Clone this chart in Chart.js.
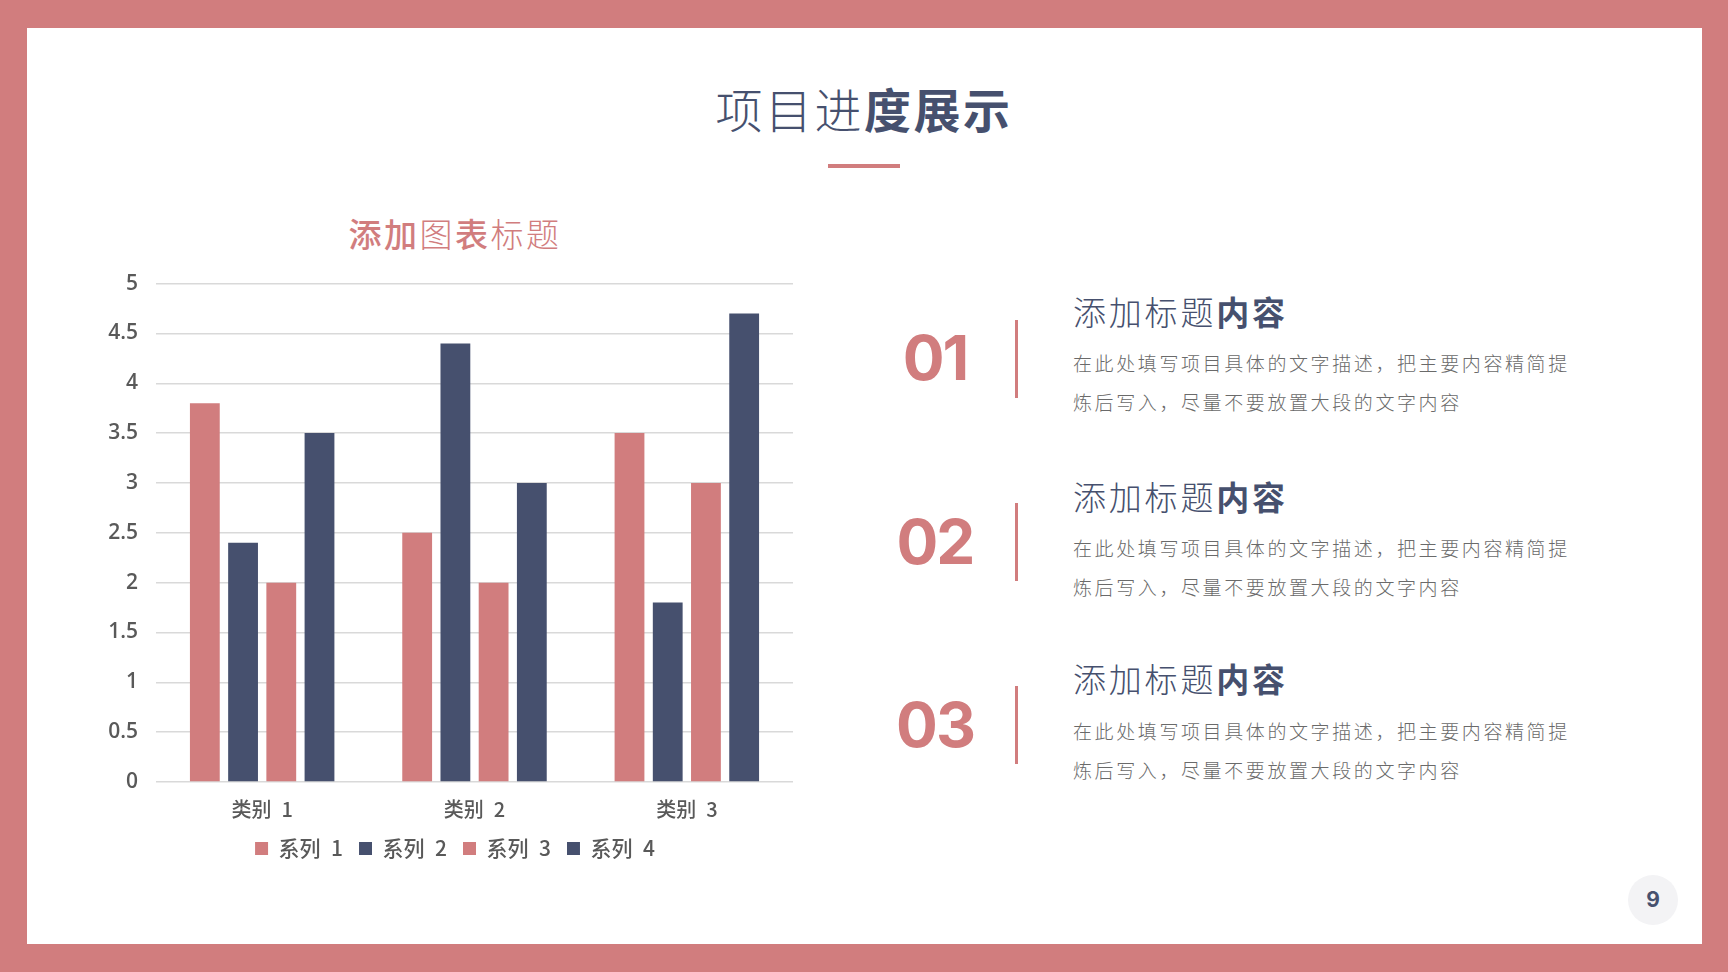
<!DOCTYPE html>
<html>
<head>
<meta charset="utf-8">
<script src="https://cdn.jsdelivr.net/npm/chart.js@4"></script>
<style>
  html, body { margin: 0; padding: 0; }
  body { width: 1728px; height: 972px; background: #d17d7e; position: relative; overflow: hidden;
         font-family: "Noto Sans CJK SC", "Noto Sans", sans-serif; }
  .page { position: absolute; left: 27px; top: 28px; width: 1675px; height: 916px; background: #fff; }
  .abs { position: absolute; white-space: nowrap; }
  .title { left: 0; width: 1728px; top: 78px; text-align: center; font-size: 47px; color: #46506e;
           letter-spacing: 2.5px; line-height: 60px; }
  .thin { font-weight: 300; }
  .bold { font-weight: 700; }
  .mid { font-weight: 500; }
  .bar { left: 828px; top: 164px; width: 72px; height: 4px; background: #d17d7e; }
  .ctitle { left: 255px; width: 400px; top: 211px; text-align: center; font-size: 33px; color: #d17d7e;
            letter-spacing: 2.5px; line-height: 44px; }
  .num { font-family: Inter, "Open Sans", sans-serif; font-weight: 700; font-size: 62px; color: #d17d7e;
         width: 200px; left: 835px; text-align: center; line-height: 70px; letter-spacing: -2px; }
  .vline { left: 1015px; width: 3px; height: 78px; background: #d17d7e; }
  .head { left: 1073px; font-size: 33px; color: #46506e; letter-spacing: 2.8px; line-height: 40px; }
  .para { left: 1073px; font-size: 19px; color: #6a6a6a; letter-spacing: 2.6px; line-height: 39px; font-weight: 300; }
  .pg { left: 1628px; top: 875px; width: 50px; height: 50px; border-radius: 50%; background: #f3f3f5;
        text-align: center; line-height: 50px; font-family: Inter, sans-serif; font-weight: 700; font-size: 21px; color: #46506e; }
  #wrap { position: absolute; left: 85px; top: 253px; width: 740px; height: 622px; }
</style>
</head>
<body>
<div class="page"></div>
<div class="abs title"><span class="thin">项目进</span><span class="bold">度展示</span></div>
<div class="abs bar"></div>
<div class="abs ctitle"><span class="mid">添加</span><span class="thin">图</span><span class="mid">表</span><span class="thin">标题</span></div>

<div class="abs num" style="top:323px">01</div>
<div class="abs vline" style="top:320px"></div>
<div class="abs head" style="top:291px"><span class="thin">添加标题</span><span class="bold">内容</span></div>
<div class="abs para" style="top:343px">在此处填写项目具体的文字描述，把主要内容精简提<br>炼后写入，尽量不要放置大段的文字内容</div>

<div class="abs num" style="top:507px">02</div>
<div class="abs vline" style="top:503px"></div>
<div class="abs head" style="top:476px"><span class="thin">添加标题</span><span class="bold">内容</span></div>
<div class="abs para" style="top:528px">在此处填写项目具体的文字描述，把主要内容精简提<br>炼后写入，尽量不要放置大段的文字内容</div>

<div class="abs num" style="top:690px">03</div>
<div class="abs vline" style="top:686px"></div>
<div class="abs head" style="top:658px"><span class="thin">添加标题</span><span class="bold">内容</span></div>
<div class="abs para" style="top:711px">在此处填写项目具体的文字描述，把主要内容精简提<br>炼后写入，尽量不要放置大段的文字内容</div>

<div class="abs pg">9</div>

<div id="wrap"><canvas id="chart"></canvas></div>

<script>
// 数据
var categories = ['类别 1', '类别 2', '类别 3'];
var seriesNames = ['系列 1', '系列 2', '系列 3', '系列 4'];
var series1 = [3.8, 2.5, 3.5];
var series2 = [2.4, 4.4, 1.8];
var series3 = [2, 2, 3];
var series4 = [3.5, 3, 4.7];

var pink = '#d17d7e';
var navy = '#46506e';
var grey = '#595959';
var cjkFont = '"Noto Sans CJK SC", sans-serif';

// 原图中文字和数字之间的空格较宽
function wide(s) { return s.replace(' ', '\u2002'); }

// 图例在整个画布上居中（右侧留白不算在内会偏左）
var legendShift = {
    id: 'legendShift',
    afterLayout: function(chart) {
        if (chart.legend) {
            chart.legend.left += 16;
            chart.legend.right += 16;
        }
    }
};

function drawChart() {
    var ctx = document.getElementById('chart').getContext('2d');
    var allSeries = [series1, series2, series3, series4];
    var colors = [pink, navy, pink, navy];

    new Chart(ctx, {
        type: 'bar',
        data: {
            labels: categories,
            datasets: allSeries.map(function(values, i) {
                return {
                    label: seriesNames[i],
                    data: values,
                    backgroundColor: colors[i],
                    borderWidth: 0,
                    categoryPercentage: 0.72,
                    barPercentage: 0.78
                };
            })
        },
        options: {
            responsive: true,
            maintainAspectRatio: false,
            animation: false,
            layout: { padding: { top: 11, right: 32, bottom: 6, left: 0 } },
            plugins: {
                tooltip: { enabled: false },
                legend: {
                    position: 'bottom',
                    labels: {
                        color: grey,
                        font: { family: cjkFont, size: 21, weight: '500' },
                        boxWidth: 13,
                        boxHeight: 13,
                        padding: 16,
                        generateLabels: function(chart) {
                            var items = Chart.defaults.plugins.legend.labels.generateLabels(chart);
                            items.forEach(function(it) { it.text = wide(it.text); });
                            return items;
                        }
                    }
                }
            },
            scales: {
                x: {
                    grid: { display: false, drawTicks: false },
                    border: { display: false },
                    ticks: {
                        color: grey,
                        font: { family: cjkFont, size: 20, weight: '500' },
                        padding: 15,
                        callback: function(value) { return wide(this.getLabelForValue(value)); }
                    },
                    afterFit: function(scale) { scale.height = 40; }
                },
                y: {
                    min: 0,
                    max: 5,
                    ticks: {
                        stepSize: 0.5,
                        color: grey,
                        font: { family: '"Open Sans", sans-serif', size: 21, weight: '600' },
                        padding: 18,
                        callback: function(value) { return String(value); }
                    },
                    grid: { color: '#d9d9d9', lineWidth: 1.5, drawTicks: false },
                    border: { display: false },
                    afterFit: function(scale) { scale.width = 71; }
                }
            }
        },
        plugins: [legendShift]
    });
}

document.addEventListener('DOMContentLoaded', function() {
    document.fonts.ready.then(drawChart);
});
</script>
</body>
</html>
